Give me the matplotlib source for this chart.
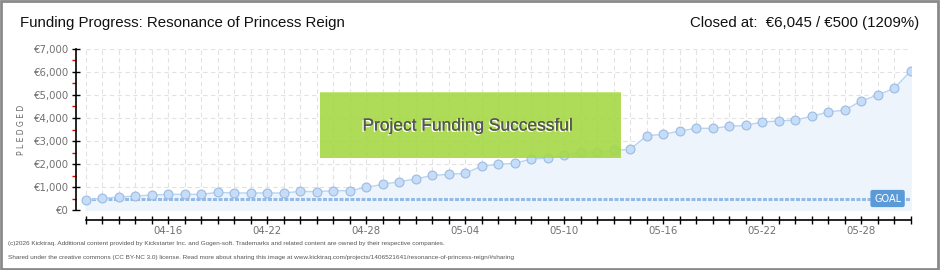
import numpy as np
import matplotlib
matplotlib.use("Agg")
import matplotlib.pyplot as plt
import matplotlib.patheffects as pe
from matplotlib.patches import Rectangle
from datetime import date, timedelta

# dados (04-11 ate 05-31)
start_day = date(2024, 4, 11)
pledged = [435, 508, 565, 608, 650, 680, 680, 680, 768, 740, 740, 740, 740, 810, 797,
           840, 840, 986, 1116, 1232, 1348, 1507, 1550, 1594, 1913, 1985, 2029, 2217,
           2260, 2377, 2522, 2507, 2594,
           2638, 3232, 3290, 3435, 3551, 3551, 3638, 3681, 3826, 3870, 3913, 4072,
           4260, 4348, 4739, 5000, 5290, 6045]
goal = 500
y_ticks = [0, 1000, 2000, 3000, 4000, 5000, 6000, 7000]
y_labels = ["€0", "€1,000", "€2,000", "€3,000", "€4,000", "€5,000", "€6,000", "€7,000"]

title = "Funding Progress: Resonance of Princess Reign"
status = "Closed at:  €6,045 / €500 (1209%)"
banner = "Project Funding Successful"
footer1 = ("(c)2026 Kicktraq. Additional content provided by Kickstarter Inc. and Gogen-soft. "
           "Trademarks and related content are owned by their respective companies.")
footer2 = ("Shared under the creative commons (CC BY-NC 3.0) license. Read more about sharing this "
           "image at www.kicktraq.com/projects/1406521641/resonance-of-princess-reign/#sharing")

days = np.arange(len(pledged))
day_labels = [(start_day + timedelta(days=int(d))).strftime("%m-%d") for d in days]

W, H = 940, 270
plt.rcParams['font.family'] = ['Liberation Sans', 'DejaVu Sans']
fig = plt.figure(figsize=(W / 100, H / 100), dpi=100)

def px(x0, y0, x1, y1):
    return [x0 / W, 1 - y1 / H, (x1 - x0) / W, (y1 - y0) / H]

ax = fig.add_axes(px(76, 49, 911, 210))
ax.set_xlim(-0.59, 50.02)
ax.set_ylim(0, 7000)

# grade
for v in y_ticks[1:]:
    ax.plot([0, days[-1]], [v, v], color="#e2e2e2", lw=0.8, dashes=(4, 3), zorder=0)
for d in days:
    ax.plot([d, d], [0, 7000], color="#e2e2e2", lw=0.8, dashes=(4, 3), zorder=0)

ax.fill_between(days, pledged, 0, color="#edf4fc", zorder=1)
ax.plot(days, pledged, color="#b9d5f3", lw=1, zorder=3, marker="o", markersize=6.4,
        markerfacecolor="#c5ddf8", markeredgecolor="#9dbbe0", markeredgewidth=0.8)
ax.plot([days[0], days[-1]], [goal, goal], color="#93bbe6", lw=2.2, dashes=(1.3, 0.5), zorder=2)

# GOAL etiqueta
ax.text(days[-1] - 1.4, goal, "GOAL", ha="center", va="center", fontsize=7, color="white",
        family="DejaVu Sans", zorder=5,
        bbox=dict(boxstyle="round,pad=0.3,rounding_size=0.15", fc="#5a9ad8", ec="#5a9ad8"))

for s in ["top", "right"]:
    ax.spines[s].set_visible(False)
ax.spines["bottom"].set_position(("outward", 7.2))
ax.spines["bottom"].set_bounds(0, days[-1])
ax.spines["left"].set_bounds(0, 7000)
ax.spines["left"].set_linewidth(1.2)
ax.spines["bottom"].set_linewidth(1.2)

ax.set_yticks(y_ticks)
ax.set_yticklabels(y_labels)
ax.set_yticks(np.arange(500, 7000, 1000), minor=True)
ax.tick_params(axis="y", which="major", direction="inout", length=6, width=1, colors="black",
               labelcolor="#707070", pad=2)
ax.tick_params(axis="y", which="minor", direction="out", length=3, width=1, color="#dd0000")
ax.set_xticks(days)
ax.set_xticklabels([lab if (d - 5) % 6 == 0 else "" for d, lab in zip(days, day_labels)])
ax.tick_params(axis="x", direction="inout", length=6, width=1, labelcolor="#707070", pad=1)
for lab in ax.get_yticklabels() + ax.get_xticklabels():
    lab.set_family("DejaVu Sans")
    lab.set_fontsize(7.3)

fig.text(22 / W, 1 - 130 / H, "P L E D G E D", rotation=90, ha="center", va="center",
         fontsize=5.5, color="#666666", family="DejaVu Sans")

# faixa verde
fig.patches.append(Rectangle((320 / W, 1 - 158 / H), 301 / W, 66 / H, transform=fig.transFigure,
                             fc="#a5d846", ec="none", alpha=0.9, zorder=10))
fig.patches.append(Rectangle((320 / W, 1 - 93 / H), 301 / W, 1.5 / H, transform=fig.transFigure,
                             fc="#c4e67f", ec="none", zorder=11))
fig.text(468 / W, 1 - 126 / H, banner, ha="center", va="center", fontsize=12.5, color="#555555",
         zorder=12, path_effects=[pe.withSimplePatchShadow(offset=(-1, -1), shadow_rgbFace="white",
                                                           alpha=1), pe.Normal()])

fig.text(20 / W, 1 - 23 / H, title, ha="left", va="center", fontsize=10.8, color="#111111")
fig.text(919 / W, 1 - 23 / H, status, ha="right", va="center", fontsize=10.8, color="#111111")
fig.text(8 / W, 1 - 243 / H, footer1, ha="left", va="center", fontsize=4.6, color="#555555")
fig.text(8 / W, 1 - 258 / H, footer2, ha="left", va="center", fontsize=4.6, color="#555555")

fig.patches.append(Rectangle((0.001, 0.002), 0.997, 0.995, transform=fig.transFigure,
                             fill=False, ec="#8a8a8a", lw=2, zorder=20))

fig.savefig("out.png", dpi=100)
